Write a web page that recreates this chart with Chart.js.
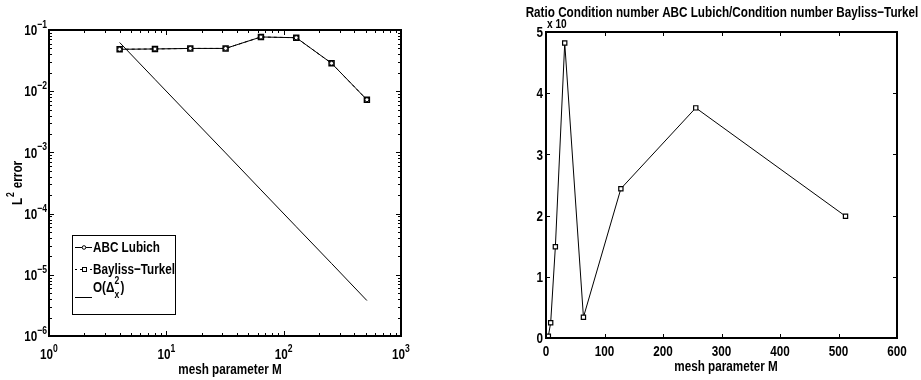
<!DOCTYPE html>
<html>
<head>
<meta charset="utf-8">
<script src="https://cdn.jsdelivr.net/npm/chart.js@4.4.1/dist/chart.umd.min.js"></script>
<style>
  html, body { margin: 0; padding: 0; background: #fff; }
  #wrap { position: relative; width: 921px; height: 380px; }
  canvas { position: absolute; top: 0; }
  #left { left: 0; }
  #right { left: 460px; }
</style>
</head>
<body>
<div id="wrap">
  <canvas id="left" width="460" height="380"></canvas>
  <canvas id="right" width="461" height="380"></canvas>
</div>
<script>
  "use strict";

  // ── data ────────────────────────────────────────────────────────────────
  const MESH = [4, 8, 16, 32, 64, 128, 256, 512];
  const ERR_LUBICH = [0.0484, 0.049, 0.050, 0.050, 0.0769, 0.0748, 0.0286, 0.00726];
  const ERR_BT = [0.0484, 0.049, 0.050, 0.050, 0.0769, 0.0748, 0.0286, 0.00726];
  const ORDER2 = [0.0625, 0.0156, 0.0039, 0.00098, 0.000244, 0.000061, 0.0000153, 0.0000038];
  const RATIO = [0.03, 0.25, 1.49, 4.82, 0.34, 2.44, 3.76, 1.99];

  const LOG_X_TICKS = [1, 10, 100, 1000];
  const LOG_X_EXP = ["0", "1", "2", "3"];
  const LOG_Y_TICKS = [1e-6, 1e-5, 1e-4, 1e-3, 1e-2, 1e-1];
  const LOG_Y_EXP = ["\u22126", "\u22125", "\u22124", "\u22123", "\u22122", "\u22121"];
  const LIN_X_TICKS = [0, 100, 200, 300, 400, 500, 600];
  const LIN_Y_TICKS = [0, 1, 2, 3, 4, 5];

  const FACE = "'Liberation Sans',Arial,sans-serif";
  const SX = 0.78; // narrow helvetica look
  const BIG = 15, SMALL = 11;
  const F = (px) => `bold ${px}px ${FACE}`;
  const $ = (id) => document.getElementById(id);
  const pts = (xs, ys) => xs.map((x, i) => ({ x, y: ys[i] }));

  const tw = (ctx, s, px) => { ctx.font = F(px); return ctx.measureText(s).width * SX; };
  function txt(ctx, s, x, y, px, align) {
    ctx.save();
    ctx.font = F(px);
    ctx.translate(x, y);
    ctx.scale(SX, 1);
    ctx.textAlign = align || "left";
    ctx.textBaseline = "middle";
    ctx.fillText(s, 0, 0);
    ctx.restore();
  }

  // base text + raised exponent; align = "right" | "center"
  function sup(ctx, base, exp, x, y, align) {
    const wb = tw(ctx, base, BIG), we = tw(ctx, exp, SMALL);
    const x0 = align === "right" ? x - wb - we : x - (wb + we) / 2;
    txt(ctx, base, x0, y, BIG);
    txt(ctx, exp, x0 + wb, y - 6, SMALL);
  }

  function box(chart) {
    const { ctx, chartArea: a } = chart;
    ctx.strokeStyle = "#000";
    ctx.lineWidth = 2;
    ctx.strokeRect(a.left, a.top, a.right - a.left, a.bottom - a.top);
  }

  function ticksX(chart, vals, len) {
    const { ctx, chartArea: a, scales: { x } } = chart;
    ctx.lineWidth = 1;
    ctx.beginPath();
    vals.forEach((v) => {
      const p = Math.round(x.getPixelForValue(v)) + 0.5;
      ctx.moveTo(p, a.bottom); ctx.lineTo(p, a.bottom - len);
      ctx.moveTo(p, a.top); ctx.lineTo(p, a.top + len);
    });
    ctx.stroke();
  }

  function ticksY(chart, vals, len) {
    const { ctx, chartArea: a, scales: { y } } = chart;
    ctx.lineWidth = 1;
    ctx.beginPath();
    vals.forEach((v) => {
      const p = Math.round(y.getPixelForValue(v)) + 0.5;
      ctx.moveTo(a.left, p); ctx.lineTo(a.left + len, p);
      ctx.moveTo(a.right, p); ctx.lineTo(a.right - len, p);
    });
    ctx.stroke();
  }

  const minors = (decades) => {
    const out = [];
    decades.slice(0, -1).forEach((d) => { for (let k = 2; k <= 9; k++) out.push(d * k); });
    return out;
  };

  // ── left: L2 error, log-log ─────────────────────────────────────────────
  const leftDeco = {
    id: "leftDeco",
    afterDraw(chart) {
      const { ctx, chartArea: a, scales: { x, y } } = chart;
      ctx.save();
      ctx.fillStyle = "#000";
      ctx.strokeStyle = "#000";
      ticksX(chart, LOG_X_TICKS, 5);
      ticksX(chart, minors(LOG_X_TICKS), 3);
      ticksY(chart, LOG_Y_TICKS, 5);
      ticksY(chart, minors(LOG_Y_TICKS), 3);
      box(chart);

      LOG_X_TICKS.forEach((v, i) => sup(ctx, "10", LOG_X_EXP[i], x.getPixelForValue(v), a.bottom + 19, "center"));
      LOG_Y_TICKS.forEach((v, i) => sup(ctx, "10", LOG_Y_EXP[i], a.left - 2, y.getPixelForValue(v) + 1, "right"));

      txt(ctx, "mesh parameter M", 230, 370, BIG, "center");

      // rotated y label: L^2 error
      ctx.save();
      ctx.translate(18, 183);
      ctx.rotate(-Math.PI / 2);
      const wL = tw(ctx, "L", BIG), w2 = tw(ctx, "2", SMALL), wE = tw(ctx, "error", BIG);
      const gap = 5;
      const sx = -(wL + w2 + gap + wE) / 2;
      txt(ctx, "L", sx, 0, BIG);
      txt(ctx, "2", sx + wL + 1, -7, SMALL);
      txt(ctx, "error", sx + wL + w2 + gap, 0, BIG);
      ctx.restore();

      // legend
      ctx.fillStyle = "#fff";
      ctx.fillRect(72, 235, 103, 79);
      ctx.lineWidth = 1;
      ctx.strokeRect(72.5, 235.5, 103, 79);
      ctx.beginPath();
      ctx.moveTo(75, 247.5); ctx.lineTo(92, 247.5);
      ctx.stroke();
      ctx.beginPath();
      ctx.arc(84, 247.5, 1.8, 0, Math.PI * 2);
      ctx.fill(); ctx.stroke();
      ctx.setLineDash([2, 3]);
      ctx.beginPath();
      ctx.moveTo(75, 269.5); ctx.lineTo(93, 269.5);
      ctx.stroke();
      ctx.setLineDash([]);
      ctx.fillRect(82, 267.5, 4, 4);
      ctx.strokeRect(82.5, 267.5, 4, 4);
      ctx.beginPath();
      ctx.moveTo(75, 297.5); ctx.lineTo(92, 297.5);
      ctx.stroke();

      ctx.fillStyle = "#000";
      txt(ctx, "ABC Lubich", 93, 248, BIG);
      txt(ctx, "Bayliss\u2212Turkel", 93, 270, BIG);
      txt(ctx, "O(\u0394", 93, 288, BIG);
      const wo = tw(ctx, "O(\u0394", BIG);
      txt(ctx, "2", 93 + wo, 281, SMALL);
      txt(ctx, "x", 93 + wo, 295, SMALL);
      txt(ctx, ")", 93 + wo + 6, 288, BIG);
      ctx.restore();
    },
  };

  new Chart($("left"), {
    type: "line",
    data: {
      datasets: [
        { label: "ABC Lubich", data: pts(MESH, ERR_LUBICH), borderColor: "#000", borderWidth: 1,
          pointStyle: "circle", pointRadius: 2, pointBorderColor: "#000", pointBackgroundColor: "#fff",
          pointBorderWidth: 1, clip: false },
        { label: "Bayliss-Turkel", data: pts(MESH, ERR_BT), borderColor: "#000", borderWidth: 1,
          borderDash: [3, 3], pointStyle: "rect", pointRadius: 3.5, pointBorderColor: "#000",
          pointBackgroundColor: "#fff", pointBorderWidth: 1.5, clip: false },
        { label: "O(dx^2)", data: pts(MESH, ORDER2), borderColor: "#000", borderWidth: 1,
          pointRadius: 0, clip: false },
      ],
    },
    options: {
      responsive: false, animation: false,
      layout: { padding: { left: 49, right: 59, top: 30, bottom: 44 } },
      plugins: { legend: { display: false }, tooltip: { enabled: false } },
      elements: { line: { tension: 0 } },
      scales: {
        x: { type: "logarithmic", min: 1, max: 1000, display: false },
        y: { type: "logarithmic", min: 1e-6, max: 1e-1, display: false },
      },
    },
    plugins: [leftDeco],
  });

  // ── right: condition number ratio ───────────────────────────────────────
  const rightDeco = {
    id: "rightDeco",
    afterDraw(chart) {
      const { ctx, chartArea: a, scales: { x, y } } = chart;
      ctx.save();
      ctx.fillStyle = "#000";
      ctx.strokeStyle = "#000";
      ticksX(chart, LIN_X_TICKS, 4);
      ticksY(chart, LIN_Y_TICKS, 4);
      box(chart);

      LIN_X_TICKS.forEach((v) => txt(ctx, String(v), x.getPixelForValue(v), a.bottom + 14, BIG, "center"));
      LIN_Y_TICKS.forEach((v) => txt(ctx, String(v), a.left - 3, y.getPixelForValue(v) + 1, BIG, "right"));

      txt(ctx, "mesh parameter M", 266, 367, BIG, "center");
      txt(ctx, "x 10", 87, 24, 13);
      txt(ctx, "Ratio Condition number ABC Lubich/Condition number Bayliss\u2212Turkel", 262, 13, BIG, "center");
      ctx.restore();
    },
  };

  new Chart($("right"), {
    type: "line",
    data: {
      datasets: [
        { label: "ratio", data: pts(MESH, RATIO), borderColor: "#000", borderWidth: 1,
          pointStyle: "rect", pointRadius: 3, pointBorderColor: "#000",
          pointBackgroundColor: "#fff", pointBorderWidth: 1.2, clip: false },
      ],
    },
    options: {
      responsive: false, animation: false,
      layout: { padding: { left: 86, right: 24, top: 32, bottom: 42 } },
      plugins: { legend: { display: false }, tooltip: { enabled: false } },
      elements: { line: { tension: 0 } },
      scales: {
        x: { type: "linear", min: 0, max: 600, display: false },
        y: { type: "linear", min: 0, max: 5, display: false },
      },
    },
    plugins: [rightDeco],
  });
</script>
</body>
</html>
